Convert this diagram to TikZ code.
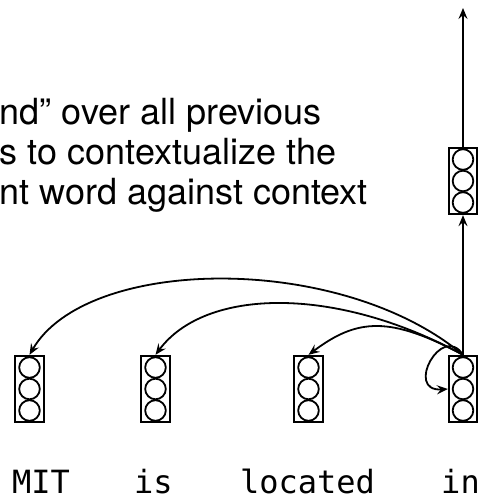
\documentclass[tikz,border=0pt]{standalone}
\usepackage{fontspec}
\setmainfont{TeX Gyre Heros}
\setmonofont{DejaVu Sans Mono}
\usetikzlibrary{arrows.meta}

\begin{document}
\begin{tikzpicture}[x=1pt, y=-1pt, line width=1.8pt,
  vec/.style={draw, minimum width=28.5pt, minimum height=66.5pt, inner sep=0pt},
  att/.style={-{Stealth[length=11pt, width=9pt, inset=4pt]}},
  word/.style={font=\ttfamily\fontsize{32}{38}\selectfont, anchor=base, inner sep=0pt},
  caption/.style={font=\fontsize{36}{42}\selectfont, anchor=base west, inner sep=0pt}]
\useasboundingbox (0,0) rectangle (479,501);
\clip (0,0) rectangle (479,501);

% caption text
\node[caption] (c1) at (-1,124) {nd” over all previous};
\node[caption] (c2) at (-1,164) {s to contextualize the};
\node[caption] (c3) at (-1,204) {nt word against context};

% hidden-state vectors
\node[vec] (mit) at (29.5,389) {};
\node[vec] (is)  at (155.5,389) {};
\node[vec] (loc) at (308.5,389) {};
\node[vec] (in)  at (463,389) {};
\node[vec] (out) at (463,181) {};
\foreach \n in {mit,is,loc,in,out}
  \foreach \dy in {-21.5,0,21.5}
    \draw (\n.center) ++(0,\dy) circle (10.3pt);

% words
\node[word] (wmit) at (41,493) {MIT};
\node[word] (wis)  at (153.5,493) {is};
\node[word] (wloc) at (307.5,493) {located};
\node[word] (win)  at (460.5,493) {in};

% vertical flow
\coordinate (top) at (463,8);
\draw[att] (in.north) -- (out.south);
\draw[att] (out.north) -- (top);

% attention arcs
\draw[att] (in.north) .. controls (340,252) and (86.5,256) .. (mit.north);
\draw[att] (in.north) .. controls (335,285) and (205,288) .. (is.north);
\draw[att] (in.north) .. controls (390,316) and (357.5,318) .. (loc.north);
\draw[att] (in.north) .. controls (442,322) and (404,392) .. (in.west);
\end{tikzpicture}
\end{document}
